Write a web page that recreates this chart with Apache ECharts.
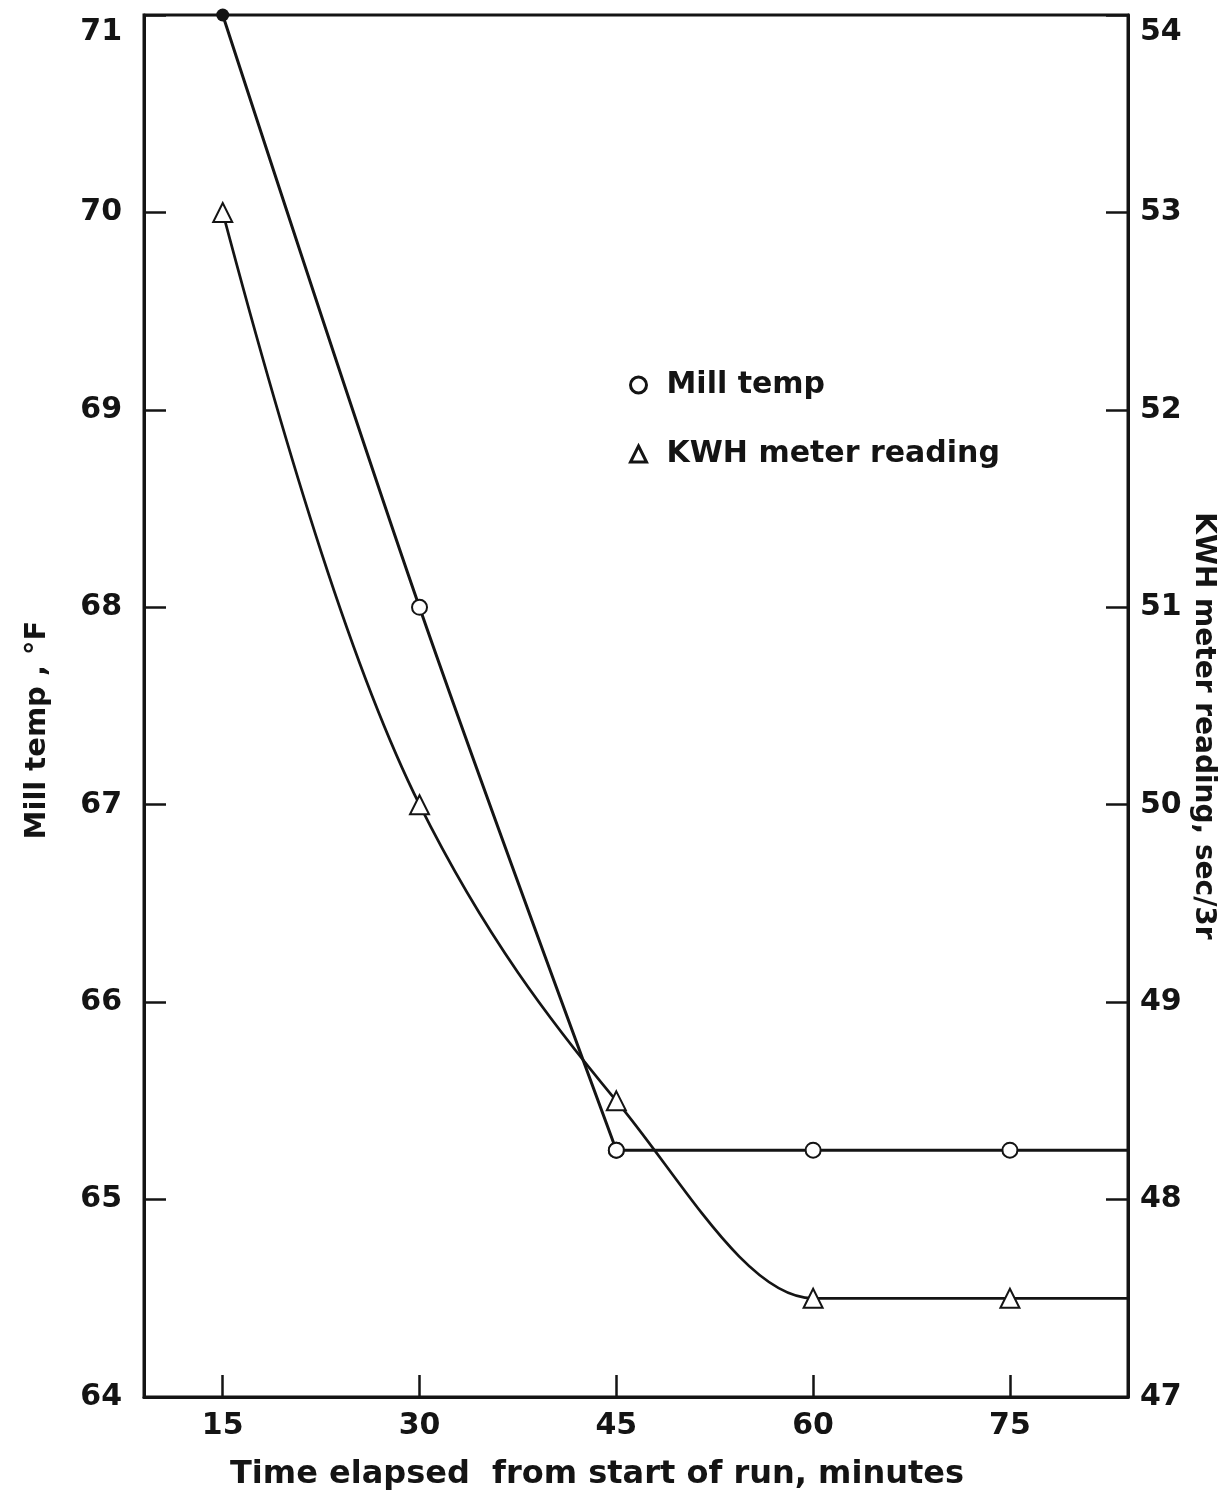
<!DOCTYPE html>
<html><head><meta charset="utf-8">
<script src="https://cdn.jsdelivr.net/npm/echarts@6/dist/echarts.min.js"></script>
<style>html,body{margin:0;padding:0;background:#fff}#c{width:1224px;height:1501px}</style>
</head><body><div id="c"></div>
<script>
// ---- data ----
const timeMin    = [15, 30, 45, 60, 75];
const millTemp   = [71, 68, 65.25, 65.25, 65.25];
const kwhReading = [53, 50, 48.5, 47.5, 47.5];
const xTicks     = [15, 30, 45, 60, 75];
const xRange     = [9, 84];
const leftRange  = [64, 71];
const rightRange = [47, 54];
const xName      = 'Time elapsed  from start of run, minutes';
const leftName   = 'Mill temp , °F';
const rightName  = 'KWH meter reading, sec/3r';
const seriesNames = ['Mill temp', 'KWH meter reading'];

const INK = '#141414';
const FONT = '"DejaVu Sans", sans-serif';

// mill temperature: curved part to 45 min, then flat run to the frame edge
const millCurve = timeMin.slice(0, 3).map((t, i) => i === 0
  ? { value: [t, millTemp[i]], symbol: 'circle', symbolSize: 13, itemStyle: { color: INK } }
  : [t, millTemp[i]]);
const millFlat = timeMin.slice(2).map((t, i) => [t, millTemp[i + 2]])
  .concat([{ value: [xRange[1], millTemp[millTemp.length - 1]], symbol: 'none' }]);
// KWH: the drawn guide curve runs through the readings and on to the frame edge
const kwhPts = timeMin.map((t, i) => [t, kwhReading[i]])
  .concat([[xRange[1], kwhReading[kwhReading.length - 1]]]);

// shape-preserving (monotone) cubic through pixel points -> per-point tangents
function pchipSlopes(P) {
  const n = P.length, h = [], d = [], m = new Array(n).fill(0);
  for (let k = 0; k < n - 1; k++) { h[k] = P[k + 1][0] - P[k][0]; d[k] = (P[k + 1][1] - P[k][1]) / h[k]; }
  for (let k = 1; k < n - 1; k++) {
    if (d[k - 1] * d[k] <= 0) { m[k] = 0; continue; }
    const w1 = 2 * h[k] + h[k - 1], w2 = h[k] + 2 * h[k - 1];
    m[k] = (w1 + w2) / (w1 / d[k - 1] + w2 / d[k]);
  }
  const end = (h0, h1, d0, d1) => {
    let v = ((2 * h0 + h1) * d0 - h0 * d1) / (h0 + h1);
    if (Math.sign(v) !== Math.sign(d0)) v = 0;
    else if (Math.sign(d0) !== Math.sign(d1) && Math.abs(v) > Math.abs(3 * d0)) v = 3 * d0;
    return v;
  };
  m[0] = end(h[0], h[1], d[0], d[1]);
  m[n - 1] = end(h[n - 2], h[n - 3], d[n - 2], d[n - 3]);
  return m;
}

const chart = echarts.init(document.getElementById('c'), null, { renderer: 'canvas' });
const axisLabelBase = { color: INK, fontFamily: FONT, fontWeight: 'bold', fontSize: 30, lineHeight: 34 };
// the top-most tick value sits just below the frame corner in the reference
const dropTop = max => v => (v === max ? '\n' + v : String(v));

chart.setOption({
  backgroundColor: '#ffffff',
  animation: false,
  grid: { left: 144, right: 96, top: 15, bottom: 104, show: true, outerBoundsMode: 'none',
          containLabel: false,
          borderColor: INK, borderWidth: 3, backgroundColor: 'transparent' },
  legend: {
    orient: 'vertical', left: 624, top: 364, itemGap: 37,
    itemWidth: 16, itemHeight: 16,
    textStyle: { color: INK, fontFamily: FONT, fontWeight: 'bold', fontSize: 30,
                 lineHeight: 32, padding: [0, 0, 0, 15] },
    data: [
      { name: seriesNames[0], icon: 'circle', itemStyle: { color: '#fff', borderColor: INK, borderWidth: 3, opacity: 1 } },
      { name: seriesNames[1], icon: 'triangle', itemStyle: { color: '#fff', borderColor: INK, borderWidth: 3, opacity: 1 } }
    ]
  },
  xAxis: {
    type: 'value', min: xRange[0], max: xRange[1],
    axisLine: { show: true, lineStyle: { color: INK, width: 3 } },
    axisTick: { show: true, inside: true, length: 22, customValues: xTicks, lineStyle: { color: INK, width: 2.5 } },
    axisLabel: Object.assign({ customValues: xTicks, margin: 12 }, axisLabelBase),
    splitLine: { show: false }
  },
  yAxis: [
    {
      type: 'value', position: 'left', min: leftRange[0], max: leftRange[1], interval: 1,
      axisLine: { show: true, lineStyle: { color: INK, width: 3 } },
      axisTick: { show: true, inside: true, length: 22, lineStyle: { color: INK, width: 2.5 } },
      axisLabel: Object.assign({ margin: 22, formatter: dropTop(leftRange[1]) }, axisLabelBase),
      splitLine: { show: false }
    },
    {
      type: 'value', position: 'right', min: rightRange[0], max: rightRange[1], interval: 1,
      axisLine: { show: true, lineStyle: { color: INK, width: 3 } },
      axisTick: { show: true, inside: true, length: 22, lineStyle: { color: INK, width: 2.5 } },
      axisLabel: Object.assign({ margin: 12, formatter: dropTop(rightRange[1]) }, axisLabelBase),
      splitLine: { show: false }
    }
  ],
  series: [
    {
      name: seriesNames[0], type: 'line', yAxisIndex: 0, data: millCurve,
      smooth: 0.3, symbol: 'emptyCircle', symbolSize: 15,
      lineStyle: { color: INK, width: 3 }, itemStyle: { color: INK, borderWidth: 2.5 },
      z: 3
    },
    {
      name: seriesNames[0], type: 'line', yAxisIndex: 0, data: millFlat,
      smooth: false, symbol: 'emptyCircle', symbolSize: 15,
      lineStyle: { color: INK, width: 3 }, itemStyle: { color: INK, borderWidth: 2.5 },
      z: 3
    },
    {
      // smooth guide curve for the KWH readings, drawn segment by segment through the axes
      type: 'custom', yAxisIndex: 1, data: kwhPts.slice(0, -1), silent: true, z: 2,
      renderItem: function (params, api) {
        const P = kwhPts.map(p => api.coord(p));
        const m = pchipSlopes(P);
        const k = params.dataIndex;
        const h = P[k + 1][0] - P[k][0];
        return {
          type: 'bezierCurve',
          shape: {
            x1: P[k][0], y1: P[k][1], x2: P[k + 1][0], y2: P[k + 1][1],
            cpx1: P[k][0] + h / 3, cpy1: P[k][1] + m[k] * h / 3,
            cpx2: P[k + 1][0] - h / 3, cpy2: P[k + 1][1] - m[k + 1] * h / 3
          },
          style: { stroke: INK, lineWidth: 2.7, fill: null }
        };
      }
    },
    {
      name: seriesNames[1], type: 'scatter', yAxisIndex: 1,
      data: timeMin.map((t, i) => [t, kwhReading[i]]),
      symbol: 'emptyTriangle', symbolSize: 19,
      itemStyle: { color: INK, borderWidth: 2.8, opacity: 1 }, z: 4
    }
  ],
  graphic: [
    { type: 'text', x: 37, y: 730, rotation: Math.PI / 2,
      style: { text: leftName, fill: INK, font: 'bold 29px ' + FONT, align: 'center', verticalAlign: 'middle' } },
    { type: 'text', x: 1203, y: 726, rotation: -Math.PI / 2,
      style: { text: rightName, fill: INK, font: 'bold 28px ' + FONT, align: 'center', verticalAlign: 'middle' } },
    { type: 'text', x: 597, y: 1475,
      style: { text: xName, fill: INK, font: 'bold 32px ' + FONT, align: 'center', verticalAlign: 'middle' } }
  ]
});
</script></body></html>
